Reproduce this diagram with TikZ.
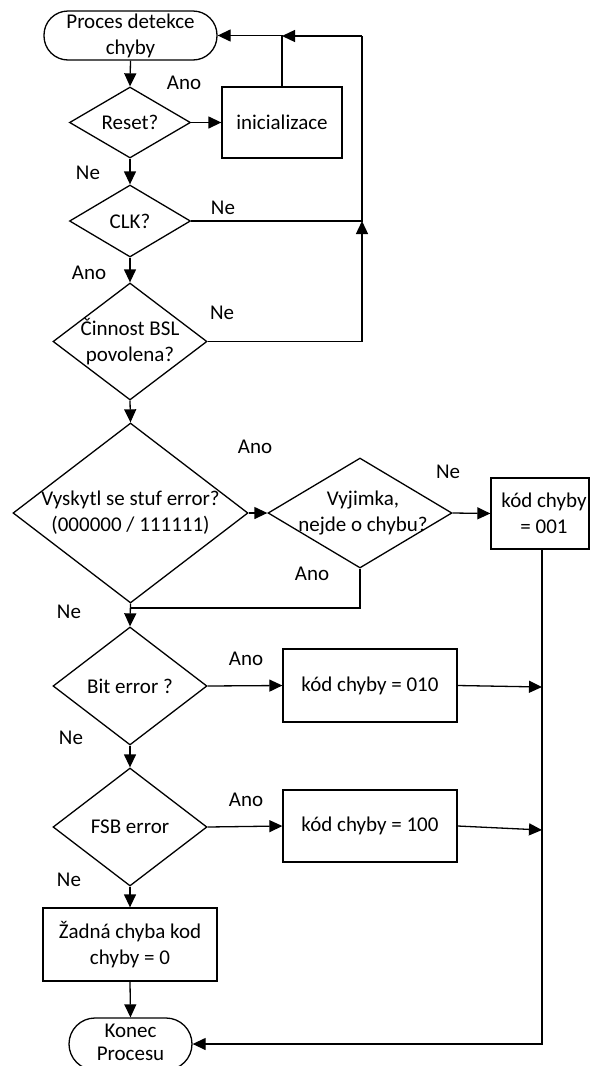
\documentclass[tikz,border=0pt]{standalone}
\usepackage{fontspec}
\setmainfont{Carlito}
\usetikzlibrary{shapes.geometric,arrows.meta}
\newcommand\chartfont{\fontsize{21}{26}\selectfont}
\tikzset{
  base/.style={draw, line width=1.3pt, inner sep=0pt, font=\chartfont, align=center},
  term/.style={base, rectangle},
  proc/.style={base, rectangle},
  dec/.style={base, diamond},
  txt/.style={font=\chartfont, inner sep=0pt, align=center},
  flow/.style={line width=1.3pt, -{Triangle[length=13pt,width=12pt]}},
  wire/.style={line width=1.3pt},
}
\begin{document}
\begin{tikzpicture}[x=1pt, y=-1pt]
\useasboundingbox (0,0) rectangle (590,1066);

% terminals
\node[term, rounded corners=24pt, minimum width=173pt, minimum height=49pt] (start) at (130.5,35.5) {Proces detekce\\chyby};
\node[term, rounded corners=26pt, minimum width=123pt, minimum height=52pt,
      label={[txt, font=\fontsize{21}{23}\selectfont, yshift=2pt]center:Konec\\Procesu}] (end) at (130.5,1044) {};

% decisions
\node[dec, minimum width=121pt, minimum height=71pt, label={[txt]center:Reset?}] (reset) at (130,122.5) {};
\node[dec, minimum width=121pt, minimum height=72pt, label={[txt]center:CLK?}] (clk) at (130,221) {};
\node[dec, minimum width=154pt, minimum height=117pt, label={[txt]center:Činnost BSL\\povolena?}] (bsl) at (130,341.5) {};
\node[dec, minimum width=235pt, minimum height=180pt, label={[txt]center:Vyskytl se stuf error?\\(000000 / 111111)}] (stuf) at (130.5,513) {};
\node[dec, minimum width=184pt, minimum height=110pt, label={[txt,xshift=3pt]center:Vyjimka,\\nejde o chybu?}] (vyj) at (360,513) {};
\node[dec, minimum width=154pt, minimum height=118pt, label={[txt]center:Bit error ?}] (bit) at (130,686) {};
\node[dec, minimum width=154pt, minimum height=118pt, label={[txt]center:FSB error}] (fsb) at (130,827) {};

% processes
\node[proc, minimum width=120pt, minimum height=71pt] (init) at (282,122.5) {inicializace};
\node[proc, minimum width=98pt, minimum height=71pt, label={[txt,xshift=4pt]center:kód chyby\\= 001}] (c001) at (540,513.5) {};
\node[proc, minimum width=174pt, minimum height=73pt] (c010) at (370,685.5) {kód chyby = 010};
\node[proc, minimum width=174pt, minimum height=72pt] (c100) at (370,826) {kód chyby = 100};
\node[proc, minimum width=174pt, minimum height=73pt] (none) at (130,944.5) {Žadná chyba kod\\chyby = 0};

% junction points
\coordinate (busTop) at (362,36);
\coordinate (jclk) at (362,221);
\coordinate (jinit) at (282,36);
\coordinate (jstuf) at (130,608);
\coordinate (obus) at (542,549);
\coordinate (j010) at (542,687);
\coordinate (j100) at (542,830);

% main column
\draw[flow] (start.south) -- (reset.north);
\draw[flow] (reset.south) -- (clk.north);
\draw[flow] (clk.south) -- (bsl.north);
\draw[flow] (bsl.south) -- (stuf.north);
\draw[flow] (stuf.south) -- (bit.north);
\draw[flow] (bit.south) -- (fsb.north);
\draw[flow] (fsb.south) -- (none.north);
\draw[flow] (none.south) -- (end.north);

% branches
\draw[flow] (reset.east) -- (init.west);
\draw[flow] (stuf.east) -- (vyj.west);
\draw[flow] (vyj.east) -- (c001.west);
\draw[wire] (vyj.south) |- (jstuf);
\draw[flow] (bit.east) -- (c010.west);
\draw[flow] (fsb.east) -- (c100.west);

% feedback loop to the start
\draw[flow] (bsl.east) -| (jclk);
\draw[wire] (clk.east) -- (jclk) -- (busTop);
\draw[flow] (busTop) -- (jinit);
\draw[flow] (init.north) |- (start.east);

% collecting bus to the end
\draw[flow] (c001.south -| obus) |- (end.east);
\draw[flow] (c010.east) -- (j010);
\draw[flow] (c100.east) -- (j100);

% branch labels
\node[txt] (l1) at (184,83) {Ano};
\node[txt] (l2) at (88,173) {Ne};
\node[txt] (l3) at (223,208) {Ne};
\node[txt] (l4) at (89,273) {Ano};
\node[txt] (l5) at (222,313) {Ne};
\node[txt] (l6) at (255,447) {Ano};
\node[txt] (l7) at (448,472) {Ne};
\node[txt] (l8) at (312,574) {Ano};
\node[txt] (l9) at (69,612) {Ne};
\node[txt] (l10) at (246,659) {Ano};
\node[txt] (l11) at (71,738) {Ne};
\node[txt] (l12) at (246,800) {Ano};
\node[txt] (l13) at (69,880) {Ne};
\end{tikzpicture}
\end{document}
